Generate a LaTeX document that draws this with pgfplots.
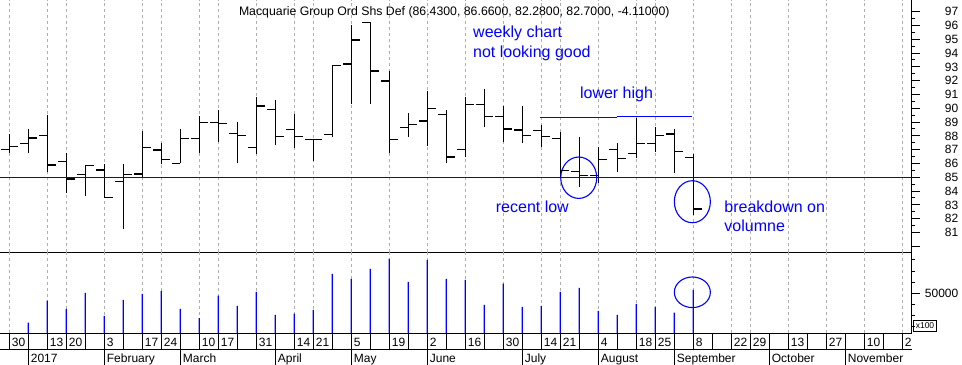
\documentclass[border=0pt]{standalone}
\usepackage{fontspec}
\setmainfont{Liberation Sans}
\usepackage{pgfplots}
\usepackage{pgfplotstable}
\pgfplotsset{compat=1.18}
\definecolor{annblue}{RGB}{0,0,255}
\definecolor{gridgray}{RGB}{175,175,175}

\pgfplotstableread{
k open high low close
0 87.03 88.14 86.79 87.20
1 87.46 88.48 86.79 87.85
2 88.00 89.52 85.41 85.89
3 86.16 86.74 83.84 84.88
4 85.17 85.92 83.67 85.85
5 85.53 85.97 83.53 83.55
6 84.71 85.97 81.23 85.17
7 85.24 88.33 84.93 87.13
8 86.98 87.46 85.97 86.30
9 86.01 88.48 86.01 87.78
10 87.78 89.44 86.74 88.99
11 88.99 89.88 87.58 88.91
12 88.19 88.99 86.01 88.04
13 87.13 90.85 86.67 90.17
14 89.93 90.60 87.37 87.95
15 88.48 89.57 87.15 87.95
16 87.71 87.75 86.21 87.75
17 88.12 93.07 87.95 93.07
18 93.21 96.04 90.31 94.95
19 96.20 96.28 90.31 92.70
20 91.98 92.70 86.74 87.75
21 88.62 89.69 87.95 88.84
22 89.08 91.26 87.29 89.98
23 89.52 89.88 86.06 86.47
24 87.03 90.85 86.50 90.29
25 90.29 91.38 88.67 89.42
26 89.42 90.17 87.58 88.50
27 88.43 90.17 87.51 88.04
28 88.36 88.77 87.22 87.95
29 87.83 88.26 85.05 85.48
30 85.45 87.90 84.28 85.10
31 85.10 87.17 84.61 86.30
32 87.03 87.46 85.41 86.38
33 86.74 89.30 86.40 87.42
34 87.42 88.67 86.86 88.00
35 88.14 88.48 85.34 86.84
36 86.43 86.66 82.28 82.70
}\ohlc

\pgfplotstableread{
k vol
1 23500
2 43400
3 35900
4 50300
5 29600
6 44000
7 49400
8 52100
9 35900
10 27700
11 47900
12 38600
13 51200
14 30500
15 31600
16 35000
17 67400
18 62900
19 71900
20 80900
21 60200
22 80000
23 62900
24 62000
25 39500
26 58700
27 37700
28 38600
29 51200
30 54800
31 34100
32 30500
33 40400
34 37700
35 32600
36 53000
}\volume

\pgfdeclareplotmark{openL}{\pgfpathmoveto{\pgfqpoint{-8.3bp}{0bp}}\pgfpathlineto{\pgfqpoint{0bp}{0bp}}\pgfusepathqstroke}
\pgfdeclareplotmark{closeR}{\pgfpathmoveto{\pgfqpoint{0bp}{0bp}}\pgfpathlineto{\pgfqpoint{8.3bp}{0bp}}\pgfusepathqstroke}

\newcommand\axfont{\fontsize{12bp}{14bp}\selectfont}
\newcommand\titlefont{\fontsize{12.3bp}{14bp}\selectfont}
\newcommand\annfont{\fontsize{16bp}{19bp}\selectfont}

\pgfplotsset{
  common/.style={
    scale only axis, width=911.7bp, anchor=south west,
    xmin=-0.4895, xmax=47.495,
    /pgf/number format/assume math mode=true,
    axis line style={black, line width=1bp},
    tick style={black, line width=1bp},
  },
  gridded/.style={
    xtick={0,2,3,5,7,8,10,11,13,15,16,18,20,22,24,26,28,29,31,33,34,36,38,39,41,43,45,47},
    xticklabels={}, xtick style={draw=none},
    xmajorgrids,
    major grid style={gridgray, dash pattern=on 3bp off 3bp, line width=0.9bp},
  },
}

\begin{document}
\begin{tikzpicture}
\useasboundingbox (0,0) rectangle (962bp,365bp);

% ---------- price panel ----------
\begin{axis}[common, gridded,
  at={(0bp,112.7bp)}, height=252.3bp,
  ymin=79.565, ymax=97.848,
  axis x line*=bottom, axis y line*=right,
  tick align=outside,
  ytick={81,...,97}, extra y ticks={80}, extra y tick labels={},
  minor y tick num=1,
  major tick length=8bp, minor tick length=3.5bp,
  yticklabel style={font=\axfont, anchor=east, inner sep=0pt, xshift=38.8bp},
  clip=true,
]
\addplot[draw=none, mark=none, forget plot, error bars/.cd, y dir=plus, y explicit, error mark=none,
  error bar style={draw=black, line width=1.1bp, solid}]
  table[x=k, y=low, y error expr=\thisrow{high}-\thisrow{low}] {\ohlc};
\addplot[only marks, mark=openL, mark options={draw=black, line width=1.1bp}] table[x=k, y=open] {\ohlc};
\addplot[only marks, mark=closeR, mark options={draw=black, line width=1.1bp}] table[x=k, y=close] {\ohlc};
\addplot[draw=annblue, line width=1.2bp, mark=none] coordinates {(-0.4895,85) (47.495,85)};
\addplot[draw=annblue, line width=1.2bp, mark=none] coordinates {(27.93,89.36) (32.0,89.36)};
\addplot[draw=annblue, line width=1.2bp, mark=none] coordinates {(32.0,89.42) (35.93,89.42)};
\draw[annblue, line width=1.1bp] (axis cs:29.97,84.97) ellipse [x radius=18bp, y radius=20.7bp];
\draw[annblue, line width=1.1bp] (axis cs:35.95,83.23) ellipse [x radius=18bp, y radius=21bp];
\node[anchor=base, inner sep=0pt, font=\titlefont] at (axis cs:23.42,96.71) {Macquarie Group Ord Shs Def (86.4300, 86.6600, 82.2800, 82.7000, -4.11000)};
\node[anchor=base west, inner sep=0pt, font=\annfont, text=annblue] at (axis cs:24.405,95.116) {weekly chart};
\node[anchor=base west, inner sep=0pt, font=\annfont, text=annblue] at (axis cs:24.405,93.696) {not looking good};
\node[anchor=base, inner sep=0pt, font=\annfont, text=annblue] at (axis cs:31.96,90.674) {lower high};
\node[anchor=base west, inner sep=0pt, font=\annfont, text=annblue] at (axis cs:25.6,82.464) {recent low};
\node[anchor=base west, inner sep=0pt, font=\annfont, text=annblue] at (axis cs:37.63,82.464) {breakdown on};
\node[anchor=base west, inner sep=0pt, font=\annfont, text=annblue] at (axis cs:37.63,81.058) {volumne};
\end{axis}

% ---------- volume panel ----------
\begin{axis}[common, gridded,
  at={(0bp,32bp)}, height=80.7bp,
  ymin=14234, ymax=86937,
  axis x line*=bottom, axis y line*=right,
  tick align=outside,
  scaled y ticks=false,
  ytick={50000}, yticklabels={50000},
  minor ytick={20000,30000,40000,60000,70000,80000},
  major tick length=8bp, minor tick length=3.5bp,
  yticklabel style={font=\axfont, anchor=east, inner sep=0pt, xshift=38.8bp},
  clip=true,
]
\addplot[ybar, bar width=1.2bp, bar shift=0pt, fill=blue, draw=none] table[x=k, y=vol] {\volume};
\draw[annblue, line width=1.1bp] (axis cs:35.95,50900) ellipse [x radius=18bp, y radius=15.3bp];
\end{axis}

% ---------- day row ----------
\begin{axis}[common,
  at={(0bp,16bp)}, height=16bp,
  ymin=0, ymax=1,
  axis x line*=bottom, axis y line=none,
  tick align=inside,
  xtick={0,...,47}, xtick style={draw=none},
  xmajorgrids, major grid style={black, solid, line width=1bp},
  xticklabels={30,{},13,20,{},3,{},17,24,{},10,17,{},31,{},14,21,{},5,{},19,{},2,{},16,{},30,{},14,21,{},4,{},18,25,{},8,{},22,29,{},13,{},27,{},10,{},2},
  xticklabel style={font=\axfont, anchor=base west, inner sep=0pt, xshift=2.4bp, yshift=3bp},
  ytick=\empty,
]
\end{axis}

% ---------- month row ----------
\begin{axis}[common,
  at={(0bp,0bp)}, height=16bp,
  ymin=0, ymax=1,
  axis x line*=bottom, axis y line=none,
  x axis line style={draw=none},
  tick align=inside,
  xtick={1,5,9,14,18,22,27,31,35,40,44}, xtick style={draw=none},
  xmajorgrids, major grid style={black, solid, line width=1bp},
  xticklabels={2017,February,March,April,May,June,July,August,September,October,November},
  xticklabel style={font=\axfont, anchor=base west, inner sep=0pt, xshift=2.4bp, yshift=2.3bp},
  ytick=\empty,
]
\end{axis}

% x100 box
\draw[black, line width=0.8bp] (913.3bp,33.3bp) rectangle (936.7bp,45bp);
\node[font=\fontsize{8.5bp}{10bp}\selectfont, inner sep=0pt] at (925bp,39.2bp) {x100};
\end{tikzpicture}
\end{document}
